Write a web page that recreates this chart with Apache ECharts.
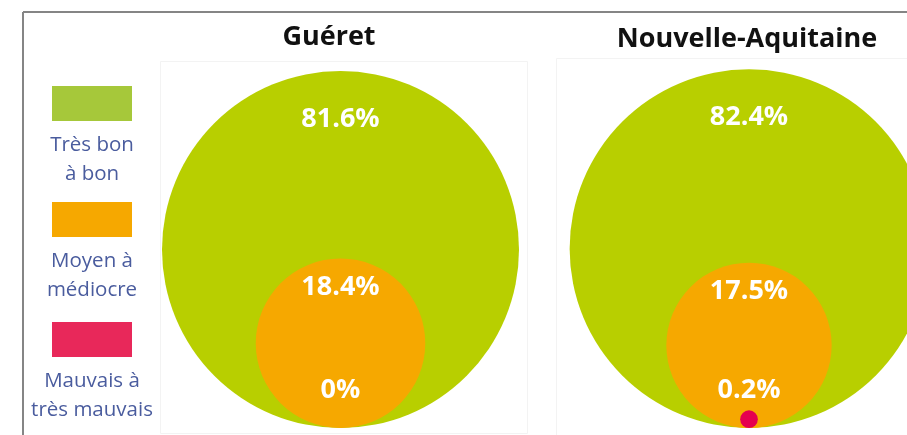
<!DOCTYPE html>
<html>
<head>
<meta charset="utf-8">
<script src="https://cdn.jsdelivr.net/npm/echarts@6/dist/echarts.min.js"></script>
<style>
html,body{margin:0;padding:0;background:#fff;}
#chart{width:907px;height:435px;}
</style>
</head>
<body>
<div id="chart"></div>
<script>
// ---- data ----
const regions = ['Guéret', 'Nouvelle-Aquitaine'];
const categories = ['Très bon à bon', 'Moyen à médiocre', 'Mauvais à très mauvais'];
const legendLabels = ['Très bon\nà bon', 'Moyen à\nmédiocre', 'Mauvais à\ntrès mauvais'];
const gueretValues = [81.6, 18.4, 0];
const nouvelleAquitaineValues = [82.4, 17.5, 0.2];
const values = [gueretValues, nouvelleAquitaineValues];

// ---- style ----
const circleColors = ['#b8cf00', '#f6a800', '#e5004f'];
const legendColors = ['#a6c83a', '#f6a800', '#e8285a'];
const FONT = '"Open Sans", "Noto Sans", sans-serif';
const PX_PER_SQRT = 39.52;          // circle diameter in px = PX_PER_SQRT * sqrt(value)
const GRID_H = 358;
const GRID_W = 300;
const gridCenters = [340.5, 749];
const titleCenters = [324, 742];
const gridTop = 70;

const diam = v => PX_PER_SQRT * Math.sqrt(v);

const grids = [], xAxes = [], yAxes = [], series = [], titles = [];
regions.forEach((r, i) => {
  grids.push({left: gridCenters[i] - GRID_W / 2, top: gridTop, width: GRID_W, height: GRID_H,
              containLabel: false, outerBoundsMode: 'none'});
  xAxes.push({type: 'category', gridIndex: i, data: [r], show: false, boundaryGap: true});
  yAxes.push({type: 'value', gridIndex: i, min: 0, max: GRID_H, show: false});
  titles.push({
    text: r,
    left: titleCenters[i],
    top: i === 0 ? 19 : 21,
    textAlign: 'center',
    textStyle: {fontFamily: FONT, fontSize: 27, fontWeight: 'bold', color: '#111'}
  });
  series.push({
    type: 'scatter',
    xAxisIndex: i, yAxisIndex: i,
    symbol: 'circle',
    silent: true,
    animation: false,
    clip: false,
    symbolSize: (val) => diam(val[2]),
    data: values[i].map((v, k) => ({
      name: categories[k],
      // bottom-aligned circles: centre sits one radius above the baseline
      value: [r, diam(v) / 2, v],
      itemStyle: {color: circleColors[k], opacity: 1},
      label: {
        show: true,
        position: k === 2 ? 'insideBottom' : 'insideTop',
        distance: k === 0 ? 35 : (k === 1 ? 15 : 24)
      }
    })),
    label: {
      show: true,
      formatter: p => p.value[2] + '%',
      fontFamily: FONT,
      fontSize: 27,
      fontWeight: 'bold',
      color: '#fff'
    }
  });
});

// legend built from the category arrays (icon above text)
const graphic = [
  {type: 'line', shape: {x1: 23, y1: 12, x2: 907, y2: 12}, style: {stroke: '#858585', lineWidth: 2}, silent: true},
  {type: 'line', shape: {x1: 23, y1: 12, x2: 23, y2: 435}, style: {stroke: '#858585', lineWidth: 2}, silent: true},
  {type: 'rect', shape: {x: 160.5, y: 61.5, width: 367, height: 372}, style: {fill: 'none', stroke: '#f3f3f3', lineWidth: 1}, silent: true, z: -10},
  {type: 'rect', shape: {x: 556.5, y: 58.5, width: 360, height: 380}, style: {fill: 'none', stroke: '#f3f3f3', lineWidth: 1}, silent: true, z: -10}
];
const legendTop = [86, 202, 322];
legendLabels.forEach((t, k) => {
  graphic.push({type: 'rect', shape: {x: 52, y: legendTop[k], width: 80, height: 35}, style: {fill: legendColors[k]}, silent: true});
  graphic.push({
    type: 'text', x: 92, y: legendTop[k] + 45,
    style: {text: t, fill: '#4a5c9e', font: '20.5px ' + FONT, textAlign: 'center', textVerticalAlign: 'top', lineHeight: 28.5},
    silent: true
  });
});

const chart = echarts.init(document.getElementById('chart'), null, {renderer: 'canvas'});
chart.setOption({
  backgroundColor: '#fff',
  animation: false,
  title: titles,
  grid: grids,
  xAxis: xAxes,
  yAxis: yAxes,
  series: series,
  graphic: graphic
});
</script>
</body>
</html>
